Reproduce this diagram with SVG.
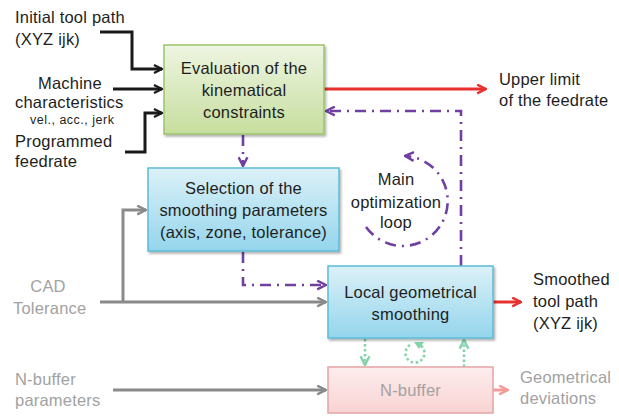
<svg xmlns="http://www.w3.org/2000/svg" width="619" height="416" viewBox="0 0 619 416">
<defs>
<linearGradient id="gGreen" x1="0" y1="0" x2="0" y2="1"><stop offset="0" stop-color="#eef5e2"/><stop offset="1" stop-color="#c6de9e"/></linearGradient>
<linearGradient id="gBlue" x1="0" y1="0" x2="0" y2="1"><stop offset="0" stop-color="#dcf1f8"/><stop offset="1" stop-color="#94d5ec"/></linearGradient>
<linearGradient id="gPink" x1="0" y1="0" x2="0" y2="1"><stop offset="0" stop-color="#fdeded"/><stop offset="1" stop-color="#f9d3d3"/></linearGradient>
<filter id="sh" x="-10%" y="-10%" width="130%" height="130%"><feDropShadow dx="1.5" dy="2" stdDeviation="1.2" flood-color="#000" flood-opacity="0.3"/></filter>
<marker id="mBlack" viewBox="0 0 10 10" refX="9" refY="5" markerWidth="10" markerHeight="10" markerUnits="userSpaceOnUse" orient="auto"><path d="M1,1 L9,5 L1,9" fill="none" stroke="#1a1a1a" stroke-width="2.2"/></marker>
<marker id="mRed" viewBox="0 0 10 10" refX="9" refY="5" markerWidth="11" markerHeight="11" markerUnits="userSpaceOnUse" orient="auto"><path d="M1,1 L9,5 L1,9" fill="none" stroke="#e8302e" stroke-width="2.2"/></marker>
<marker id="mPink" viewBox="0 0 10 10" refX="9" refY="5" markerWidth="11" markerHeight="11" markerUnits="userSpaceOnUse" orient="auto"><path d="M1,1 L9,5 L1,9" fill="none" stroke="#f39a9a" stroke-width="2.2"/></marker>
<marker id="mGray" viewBox="0 0 10 10" refX="9" refY="5" markerWidth="11" markerHeight="11" markerUnits="userSpaceOnUse" orient="auto"><path d="M1,1 L9,5 L1,9" fill="none" stroke="#8a8a8a" stroke-width="2.2"/></marker>
<marker id="mPurple" viewBox="0 0 10 10" refX="9" refY="5" markerWidth="11" markerHeight="11" markerUnits="userSpaceOnUse" orient="auto"><path d="M1,1 L9,5 L1,9" fill="none" stroke="#7040a0" stroke-width="2.2"/></marker>
<marker id="mMint" viewBox="0 0 10 10" refX="9" refY="5" markerWidth="11" markerHeight="11" markerUnits="userSpaceOnUse" orient="auto"><path d="M1,1 L9,5 L1,9" fill="none" stroke="#84d3a9" stroke-width="2.2"/></marker>
</defs>
<style>
text{font-family:"Liberation Sans",Arial,sans-serif;font-size:16.5px;letter-spacing:0.2px;fill:#1e1e1e}
.c{text-anchor:middle}
.g{fill:#a2a2a2}
.s{font-size:12.5px;letter-spacing:0.5px}
.blk{fill:none;stroke:#1a1a1a;stroke-width:3;marker-end:url(#mBlack)}
.gry{fill:none;stroke:#8a8a8a;stroke-width:3;marker-end:url(#mGray)}
.pur{fill:none;stroke:#7040a0;stroke-width:2.6;stroke-dasharray:11 6 2 6}
.mint{fill:none;stroke:#84d3a9;stroke-width:2.6;stroke-dasharray:2.5 2.5}
</style>

<g id="connectors">
<path class="blk" d="M100,32 H132 V69 H162"/>
<path class="blk" d="M113,89 H162"/>
<path class="blk" d="M125,152 H145 V113 H162"/>
<path d="M324,89 H486" fill="none" stroke="#e8302e" stroke-width="3" marker-end="url(#mRed)"/>
<path class="pur" d="M461,266 V111 H326" marker-end="url(#mPurple)"/>
<path class="pur" d="M243,135 V166" marker-end="url(#mPurple)"/>
<path class="pur" d="M243,252 V285 H326" marker-end="url(#mPurple)"/>
<path class="pur" d="M366,227 A45,45 0 1 0 405,156" marker-end="url(#mPurple)"/>
<path class="gry" d="M100,302 H326"/>
<path class="gry" d="M123,302 V210 H146"/>
<path class="gry" d="M113,390 H326"/>
<path d="M493,302 H521" fill="none" stroke="#e8302e" stroke-width="3" marker-end="url(#mRed)"/>
<path d="M493,390 H508" fill="none" stroke="#f39a9a" stroke-width="3" marker-end="url(#mPink)"/>
<path class="mint" d="M365,339 V365" marker-end="url(#mMint)"/>
<path class="mint" d="M464,367 V340" marker-end="url(#mMint)"/>
<path class="mint" d="M410,345 A9.5,9.5 0 1 0 420,345"/>
<path d="M414,342 L424,342 L419,349 Z" fill="#84d3a9"/>
</g>

<g id="n-eval">
<rect x="164" y="45" width="160" height="89" fill="url(#gGreen)" stroke="#9dc36b" stroke-width="1.5" filter="url(#sh)"/>
<text class="c" x="244" y="74">Evaluation of the</text>
<text class="c" x="244" y="96">kinematical</text>
<text class="c" x="244" y="118">constraints</text>
</g>

<g id="n-select">
<rect x="148" y="168" width="191" height="83" fill="url(#gBlue)" stroke="#5bbcd6" stroke-width="1.5" filter="url(#sh)"/>
<text class="c" x="243.5" y="194">Selection of the</text>
<text class="c" x="243.5" y="216">smoothing parameters</text>
<text class="c" x="243.5" y="238">(axis, zone, tolerance)</text>
</g>

<g id="n-smooth">
<rect x="328" y="266" width="165" height="72" fill="url(#gBlue)" stroke="#5bbcd6" stroke-width="1.5" filter="url(#sh)"/>
<text class="c" x="410.5" y="298">Local geometrical</text>
<text class="c" x="410.5" y="320">smoothing</text>
</g>

<g id="n-buffer">
<rect x="328" y="367" width="165" height="46" fill="url(#gPink)" stroke="#e4a4a4" stroke-width="1.5"/>
<text class="c g" x="410.5" y="396">N-buffer</text>
</g>

<g id="labels">
<text x="15" y="23">Initial tool path</text>
<text x="15" y="45">(XYZ ijk)</text>
<text x="38" y="89">Machine</text>
<text x="15" y="108">characteristics</text>
<text class="s" x="30" y="124">vel., acc., jerk</text>
<text x="15" y="147">Programmed</text>
<text x="15" y="167">feedrate</text>
<text x="499" y="85">Upper limit</text>
<text x="499" y="106">of the feedrate</text>
<text class="c" x="396" y="185">Main</text>
<text class="c" x="396" y="208">optimization</text>
<text class="c" x="396" y="228">loop</text>
<text class="c g" x="48" y="292">CAD</text>
<text class="g" x="13" y="314">Tolerance</text>
<text x="533" y="285">Smoothed</text>
<text x="533" y="307">tool path</text>
<text x="533" y="329">(XYZ ijk)</text>
<text class="g" x="15" y="385">N-buffer</text>
<text class="g" x="15" y="406">parameters</text>
<text class="g" x="520" y="383">Geometrical</text>
<text class="g" x="520" y="404">deviations</text>
</g>
</svg>
